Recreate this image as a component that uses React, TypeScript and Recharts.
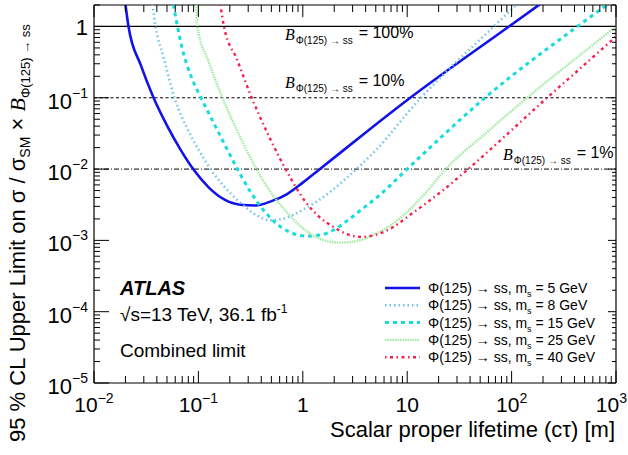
import React from 'react';
import { LineChart, Line, XAxis, YAxis, ReferenceLine, Legend } from 'recharts';

// limits, per scalar mass (ctau in m, limit on sigma/sigma_SM x B)
const CTAU_5 = [0.02, 0.0214, 0.0282, 0.0372, 0.0501, 0.0676, 0.0891, 0.126, 0.178, 0.251, 0.355, 0.501, 0.708, 1.0, 1.46, 3.98, 10.7, 94.4, 186];
const LIMIT_5 = [2.04, 1.0, 0.282, 0.1, 0.0407, 0.0186, 0.01, 0.0055, 0.00372, 0.00316, 0.00309, 0.00355, 0.00447, 0.00646, 0.01, 0.0324, 0.1, 1.0, 2.04];

const CTAU_8 = [0.0363, 0.0389, 0.0468, 0.0589, 0.0794, 0.105, 0.135, 0.178, 0.251, 0.355, 0.49, 0.708, 1.0, 1.38, 2.51, 5.13, 12.6, 20.4, 67.6, 112];
const LIMIT_8 = [2.04, 1.0, 0.355, 0.1, 0.0355, 0.0166, 0.00933, 0.00562, 0.00339, 0.00229, 0.00191, 0.00209, 0.00269, 0.00355, 0.00708, 0.0191, 0.0891, 0.186, 1.0, 2.04];

const CTAU_15 = [0.0575, 0.0631, 0.0692, 0.0851, 0.106, 0.141, 0.191, 0.251, 0.316, 0.417, 0.603, 0.794, 1.1, 1.51, 2.0, 2.63, 3.63, 5.5, 10, 55.6, 427, 832];
const LIMIT_15 = [2.04, 1.0, 0.525, 0.2, 0.1, 0.0437, 0.0182, 0.00851, 0.00479, 0.00269, 0.00158, 0.00126, 0.00115, 0.0012, 0.00141, 0.00186, 0.00269, 0.00437, 0.01, 0.1, 1.0, 2.04];

const CTAU_25 = [0.0955, 0.0977, 0.126, 0.17, 0.24, 0.347, 0.501, 0.708, 1.0, 1.55, 2.24, 3.31, 4.79, 6.92, 10, 15.1, 23.4, 56.2, 141, 871, 1000];
const LIMIT_25 = [2.04, 1.0, 0.316, 0.1, 0.0324, 0.011, 0.00457, 0.00245, 0.00148, 0.00102, 0.00093, 0.00098, 0.0012, 0.00162, 0.00251, 0.00468, 0.01, 0.0316, 0.1, 0.851, 1.0];

const CTAU_40 = [0.162, 0.176, 0.234, 0.324, 0.437, 0.589, 0.794, 1.05, 1.41, 1.95, 2.63, 3.55, 4.68, 6.61, 11.2, 21.9, 39.8, 219, 871, 1000];
const LIMIT_40 = [2.04, 1.0, 0.347, 0.1, 0.0372, 0.0151, 0.00676, 0.00355, 0.00219, 0.00155, 0.00123, 0.00112, 0.00117, 0.00141, 0.0024, 0.00501, 0.0105, 0.1, 0.603, 0.724];

const MASSES = [5, 8, 15, 25, 40];

const MAJOR_X = [0.01, 0.1, 1, 10, 100, 1000];
const MAJOR_Y = [1e-5, 1e-4, 1e-3, 1e-2, 0.1, 1];
const MINOR_STEPS = [2, 3, 4, 5, 6, 7, 8, 9];

const X_TICKS = MAJOR_X.flatMap((d) => (d === 1000 ? [d] : [d, ...MINOR_STEPS.map((m) => d * m)]));
const Y_TICKS = [...MAJOR_Y.slice(0, 5).flatMap((d) => [d, ...MINOR_STEPS.map((m) => d * m)]), 1, 2];

const SANS = '"Liberation Sans", Arial, Helvetica, sans-serif';
const SERIF = '"Liberation Serif", "Times New Roman", serif';

const W = 628;
const H = 455;
const LEFT = 94;
const RIGHT = 616;
const TOP = 5;
const BOTTOM = 383;

const SERIES = [
  { mass: MASSES[0], ctau: CTAU_5, limit: LIMIT_5, color: '#1212ea', dash: undefined, width: 2.6 },
  { mass: MASSES[1], ctau: CTAU_8, limit: LIMIT_8, color: '#72c4ee', dash: '1.5 3', width: 2.6 },
  { mass: MASSES[2], ctau: CTAU_15, limit: LIMIT_15, color: '#16dcdc', dash: '4 4', width: 3 },
  { mass: MASSES[3], ctau: CTAU_25, limit: LIMIT_25, color: '#a2eaa2', dash: '1.5 1', width: 2.4 },
  { mass: MASSES[4], ctau: CTAU_40, limit: LIMIT_40, color: '#f41f4e', dash: '1.5 3.5 3 3.5', width: 2.4 },
];

const isMajor = (v: number) => Math.abs(Math.log10(v) - Math.round(Math.log10(v))) < 1e-6;

const powLabel = (v: number, supDy: number) => {
  const e = Math.round(Math.log10(v));
  if (e === 0) return '1';
  if (e === 1) return '10';
  return (
    <>
      10
      <tspan fontSize={14} dy={supDy}>{e < 0 ? '\u2212' + -e : String(e)}</tspan>
    </>
  );
};

const XTick = (props: any) => {
  const { x, payload } = props;
  const v = payload.value;
  const major = isMajor(v);
  const len = major ? 12 : 7;
  const last = v === 1000;
  return (
    <g>
      <line x1={x} x2={x} y1={BOTTOM} y2={BOTTOM - len} stroke="#000" strokeWidth={1} />
      <line x1={x} x2={x} y1={TOP} y2={TOP + len} stroke="#000" strokeWidth={1} />
      {major && (
        <text
          x={last ? W - 1 : x}
          y={412}
          textAnchor={last ? 'end' : 'middle'}
          fontFamily={SANS}
          fontSize={21}
          fill="#000"
        >
          {powLabel(v, -9)}
        </text>
      )}
    </g>
  );
};

const YTick = (props: any) => {
  const { y, payload } = props;
  const v = payload.value;
  const major = isMajor(v);
  const e = Math.round(Math.log10(v));
  return (
    <g>
      <line x1={LEFT} x2={LEFT + (major ? 15 : 6)} y1={y} y2={y} stroke="#000" strokeWidth={1} />
      <line x1={RIGHT} x2={RIGHT - (major ? 8 : 4)} y1={y} y2={y} stroke="#000" strokeWidth={1} />
      {major && (
        <text x={88} y={y + (e === 0 ? 9 : 11)} textAnchor="end" fontFamily={SANS} fontSize={22} fill="#000">
          {powLabel(v, -11)}
        </text>
      )}
    </g>
  );
};

const bLabel = (pct: string, dx: number, dy: number) => (props: any) => {
  const { viewBox } = props;
  return (
    <text x={viewBox.x + dx} y={viewBox.y + dy} fill="#000">
      <tspan fontFamily={SERIF} fontStyle="italic" fontSize={16}>B</tspan>
      <tspan fontFamily={SANS} fontSize={10} dx={1} dy={4}>Φ(125) → ss</tspan>
      <tspan fontFamily={SANS} fontSize={16} dx={6} dy={-6}>= {pct}</tspan>
    </text>
  );
};

const yTitle = () => (
  <text transform={`translate(25,442) rotate(-90)`} fontFamily={SANS} fontSize={22} fill="#000">
    95 % CL Upper Limit on σ / σ
    <tspan fontSize={14} dy={5}>SM</tspan>
    <tspan dy={-5}> × </tspan>
    <tspan fontFamily={SERIF} fontStyle="italic">B</tspan>
    <tspan fontSize={13} dy={5}>Φ(125) → ss</tspan>
  </text>
);

const xTitle = () => (
  <text x={615} y={437} textAnchor="end" fontFamily={SANS} fontSize={22} fill="#000">
    Scalar proper lifetime (cτ) [m]
  </text>
);

const renderLegend = () => (
  <svg width={235} height={92} style={{ display: 'block' }}>
    {SERIES.map((s, i) => {
      const cy = 10 + i * 17.3;
      return (
        <g key={s.mass}>
          <line x1={5} x2={40} y1={cy} y2={cy} stroke={s.color} strokeWidth={s.width} strokeDasharray={s.dash} />
          <text x={48} y={cy + 5} fontFamily={SANS} fontSize={14} fill="#000">
            Φ(125) → ss, m<tspan fontSize={9} dy={4}>s</tspan>
            <tspan dy={-4}> = {s.mass} GeV</tspan>
          </text>
        </g>
      );
    })}
  </svg>
);

export default function App() {
  return (
    <div style={{ position: 'absolute', left: 0, top: 0, width: W, height: H, background: '#fff' }}>
      <LineChart width={W} height={H} margin={{ top: TOP, right: W - RIGHT, bottom: 0, left: 0 }}>
        <XAxis
          dataKey="ctau"
          type="number"
          scale="log"
          domain={[0.01, 1000]}
          allowDataOverflow
          ticks={X_TICKS}
          interval={0}
          height={H - BOTTOM}
          tick={<XTick />}
          tickLine={false}
          tickSize={0}
          axisLine={{ stroke: '#000', strokeWidth: 1.2 }}
          label={xTitle}
        />
        <YAxis
          dataKey="limit"
          type="number"
          scale="log"
          domain={[1e-5, 2]}
          allowDataOverflow
          ticks={Y_TICKS}
          interval={0}
          width={LEFT}
          tick={<YTick />}
          tickLine={false}
          tickSize={0}
          axisLine={{ stroke: '#000', strokeWidth: 1.2 }}
          label={yTitle}
        />
        <ReferenceLine y={2} stroke="#000" strokeWidth={1.2} />
        <ReferenceLine x={1000} stroke="#000" strokeWidth={1.2} />
        <ReferenceLine y={1} stroke="#000" strokeWidth={1.2} label={bLabel('100%', 191, 14)} />
        <ReferenceLine y={0.1} stroke="#000" strokeDasharray="3 2.5" label={bLabel('10%', 191, -10)} />
        <ReferenceLine y={0.01} stroke="#000" strokeDasharray="5 2 1 2" label={bLabel('1%', 409, -9)} />
        {SERIES.map((s) => (
          <Line
            key={s.mass}
            data={s.ctau.map((c, i) => ({ ctau: c, limit: s.limit[i] }))}
            dataKey="limit"
            type="monotone"
            stroke={s.color}
            strokeWidth={s.width}
            strokeDasharray={s.dash}
            dot={false}
            activeDot={false}
            isAnimationActive={false}
          />
        ))}
        <Legend
          layout="vertical"
          align="center"
          verticalAlign="middle"
          content={renderLegend}
          wrapperStyle={{ position: 'absolute', left: 380, top: 278, width: 235, height: 92 }}
        />
      </LineChart>
      <svg width={W} height={H} style={{ position: 'absolute', left: 0, top: 0, pointerEvents: 'none' }}>
        <text x={120} y={295} fontFamily={SANS} fontSize={20} fontWeight="bold" fontStyle="italic" fill="#000">
          ATLAS
        </text>
        <text x={120} y={321} fontFamily={SANS} fontSize={19} fill="#000">
          √s=13 TeV, 36.1 fb<tspan fontSize={12} dy={-8}>-1</tspan>
        </text>
        <text x={120} y={357} fontFamily={SANS} fontSize={19} fill="#000">
          Combined limit
        </text>
      </svg>
    </div>
  );
}
